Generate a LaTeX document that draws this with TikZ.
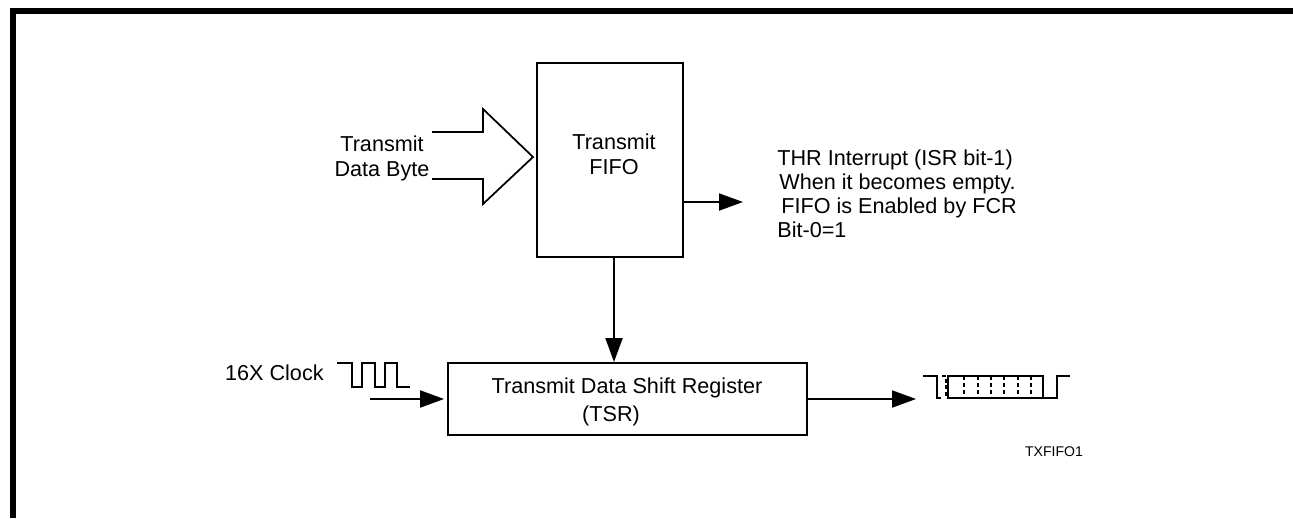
\documentclass[tikz,border=0pt]{standalone}
\usepackage{fontspec}
\setmainfont{Liberation Sans}
\usepackage{tikz}
\usetikzlibrary{arrows.meta}

\tikzset{
  box/.style={draw, line width=1.1pt, inner sep=0pt},
  lbl/.style={inner sep=0pt, align=center, font=\fontsize{12.3pt}{14.2pt}\selectfont},
  sig/.style={-{Triangle[length=0.48cm,width=0.34cm]}, line width=1.1pt},
  wave/.style={line width=1pt},
}

\begin{document}
\begin{tikzpicture}[x=0.02cm, y=-0.02cm]
	        \useasboundingbox (0,0) rectangle (1293,518);
	        \draw[line width=0.12cm] (13,518) -- (13,11) -- (1293,11); %page frame
	        % blocks
	        \node[box, minimum width=2.92cm, minimum height=3.88cm] (fifo) at (610,160) {};
	        \node[lbl] (fifolbl) at (614,154) {Transmit\\FIFO};
	        \node[box, minimum width=7.18cm, minimum height=1.44cm] (tsr) at (627.5,399) {};
	        \node[lbl] (tsrlbl) at (627,402) {Transmit Data Shift Register\\[1.5pt](TSR)\hspace*{0.64cm}};
	        % data byte input (hollow arrow)
	        \coordinate (bytetip) at (533,157);
	        \draw[line width=1pt, line join=miter] (432,132) -- (483,132) -- (483,109) -- (bytetip) -- (483,204) -- (483,179) -- (432,179);
	        \node[lbl] (bytelbl) at (382,158) {Transmit\\Data Byte};
	        % THR interrupt
	        \coordinate (thrend) at (743,202);
	        \draw[sig] (fifo.east |- thrend) -- (thrend);
	        \node[lbl, align=left, anchor=west, font=\fontsize{12.3pt}{13.7pt}\selectfont] (thrlbl) at (777,194) {THR Interrupt (ISR bit-1)\\\hspace*{0.04cm}When it becomes empty.\\\hspace*{0.08cm}FIFO is Enabled by FCR\\Bit-0=1};
	        % fifo to shift register
	        \draw[sig] ([xshift=0.08cm]fifo.south) -- ([xshift=0.08cm]fifo.south |- tsr.north);
	        % 16X clock
	        \node[lbl, anchor=east] (clklbl) at (324,373) {16X Clock};
	        \draw[wave] (337,363) -- (352,363) -- (352,387) -- (362,387) -- (362,363) -- (375,363) -- (375,387) -- (385,387) -- (385,363) -- (397,363) -- (397,387) -- (410,387);
	        \coordinate (clkstart) at (370,399);
	        \draw[sig, shorten >=0.06cm] (clkstart) -- (tsr.west);
	        % serial out
	        \coordinate (serout) at (916,399);
	        \draw[sig] (tsr.east) -- (serout);
	        \draw[wave] (923,376) -- (937,376) -- (937,398) -- (941,398);
	        \draw[wave, dash pattern=on 0.08cm off 0.05cm] (942,376) -- (946,376) -- (946,398);
	        \draw[wave] (948,376) rectangle (1043,398);
	        \foreach \x in {964,978,991,1004,1018,1031}
	            \draw[wave, dash pattern=on 0.08cm off 0.06cm] (\x,376) -- (\x,398); %data bits
	        \draw[wave] (1043,398) -- (1057,398) -- (1057,376) -- (1070,376);
	        \node[lbl, font=\fontsize{8pt}{9pt}\selectfont] (figid) at (1054,452) {TXFIFO1};
	    \end{tikzpicture}
\end{document}
